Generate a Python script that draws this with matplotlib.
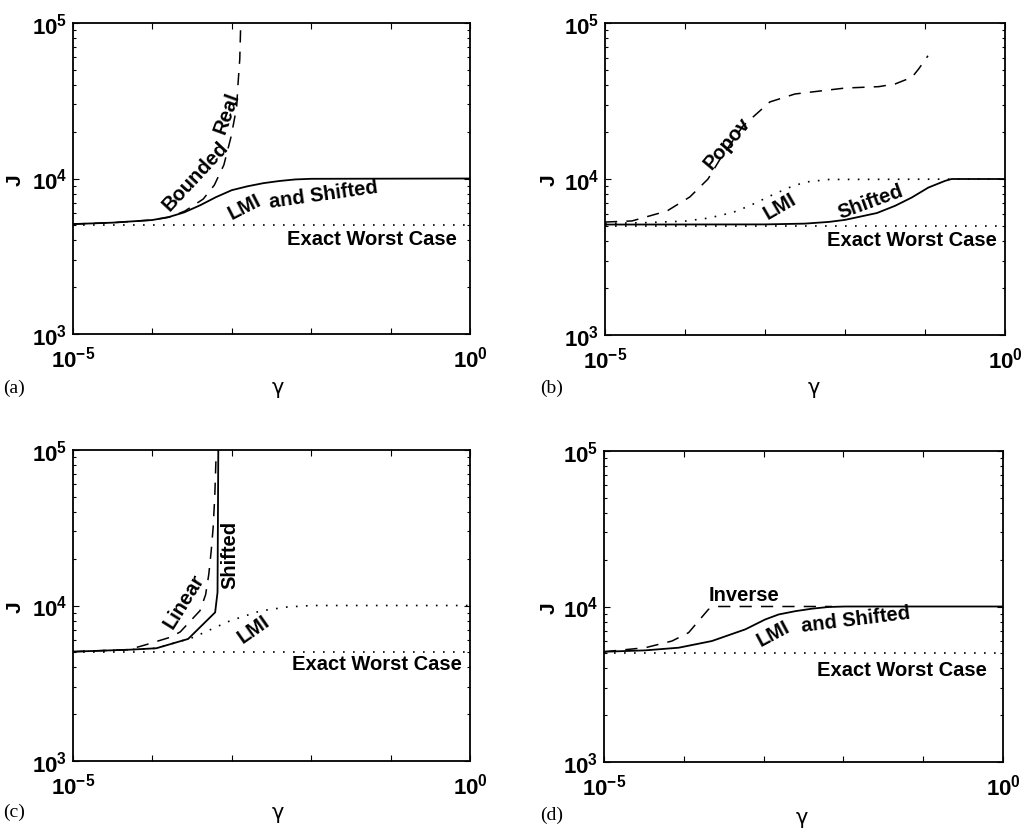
import numpy as np
import matplotlib
matplotlib.use('Agg')
import matplotlib.pyplot as plt
from matplotlib.ticker import FixedLocator, FuncFormatter, LogLocator, NullFormatter

plt.rcParams['font.family'] = ['Liberation Sans', 'DejaVu Sans']
plt.rcParams['mathtext.fontset'] = 'custom'
plt.rcParams['mathtext.rm'] = 'Liberation Sans:bold'
plt.rcParams['mathtext.bf'] = 'Liberation Sans:bold'

W, H = 1024, 829

# exact worst case level (same in every panel)
worst_gamma = [1e-5, 1.0]
worst_J = [5000, 5000]

# (a) LMI and Shifted (solid), Bounded Real (dashed)
a_shift_gamma = [1e-5, 3.16e-5, 1e-4, 1.6e-4, 2.51e-4, 4e-4, 6.31e-4, 1e-3, 1.58e-3, 2.5e-3, 3.98e-3, 6.3e-3, 1e-2, 1.0]
a_shift_J = [5093, 5200, 5408, 5649, 6053, 6730, 7586, 8414, 8913, 9333, 9638, 9863, 9954, 10000]
a_br_gamma = [1e-5, 3.16e-5, 1e-4, 1.66e-4, 2.57e-4, 4.37e-4, 6.03e-4, 7.94e-4, 9.77e-4, 1.15e-3, 1.2e-3, 1.26e-3, 1.29e-3]
a_br_J = [5093, 5200, 5408, 5649, 6180, 7379, 9078, 12218, 18493, 28642, 41115, 58614, 91411]

# (b) Shifted (solid), LMI (dotted), Popov (dashed)
b_shift_gamma = [1e-5, 1e-3, 3.16e-3, 6.31e-3, 1e-2, 2.51e-2, 4.22e-2, 6.81e-2, 0.110, 0.178, 0.215, 1.0]
b_shift_J = [5105, 5117, 5176, 5309, 5470, 6053, 6730, 7603, 8810, 9727, 10000, 10000]
b_lmi_gamma = [1e-5, 3.16e-5, 1e-4, 2e-4, 3.98e-4, 6.46e-4, 1.26e-3, 2e-3, 3.16e-3, 6.31e-3, 1.0]
b_lmi_J = [5188, 5248, 5370, 5623, 6109, 6745, 7943, 8810, 9550, 9931, 10000]
b_popov_gamma = [1e-5, 2.17e-5, 5.96e-5, 1.15e-4, 1.94e-4, 2.75e-4, 5.31e-4, 1.15e-3, 2.37e-3, 4.86e-3, 1e-2, 2.64e-2, 4.22e-2, 6.87e-2, 8.32e-2, 0.109]
b_popov_J = [5297, 5383, 6237, 7674, 10000, 13428, 21878, 31189, 35075, 36644, 38282, 39084, 40644, 44875, 50699, 61660]

# (c) Shifted (solid), Linear (dashed), LMI (dotted)
c_shift_gamma = [1e-5, 5.25e-5, 1.12e-4, 2.82e-4, 6.17e-4, 6.61e-4, 6.76e-4]
c_shift_J = [5047, 5200, 5309, 6095, 9036, 12162, 100000]
c_lin_gamma = [1e-5, 5.01e-5, 8.07e-5, 1.66e-4, 2.24e-4, 3.98e-4, 4.68e-4, 5.13e-4, 5.5e-4, 5.82e-4, 6.1e-4, 6.31e-4]
c_lin_J = [5047, 5200, 5572, 6237, 6761, 9268, 11749, 15849, 22387, 31623, 50119, 85114]
c_lmi_gamma = [1e-5, 5.25e-5, 1.12e-4, 2.82e-4, 3.27e-4, 9.55e-4, 2.29e-3, 4.9e-3, 1e-2, 1.0]
c_lmi_J = [5047, 5200, 5309, 6095, 6237, 7980, 9226, 9772, 10000, 10000]

# (d) LMI and Shifted (solid), Inverse (dashed)
d_shift_gamma = [1e-5, 3.3e-5, 8.63e-5, 2.25e-4, 5.9e-4, 1.05e-3, 1.55e-3, 2.5e-3, 4.05e-3, 6.53e-3, 1.06e-2, 1.0]
d_shift_J = [5117, 5224, 5433, 5998, 7129, 8260, 8892, 9333, 9683, 9931, 10000, 10000]
d_inv_gamma = [1e-5, 3.3e-5, 7.11e-5, 1.15e-4, 1.53e-4, 2.04e-4, 2.74e-4, 7.2e-3]
d_inv_J = [5117, 5433, 5998, 6792, 8072, 9594, 10000, 10000]

SOLID = dict(color='black', lw=1.3, ls='-')
DASH = dict(color='black', lw=1.1, ls=(0, (8, 6)))
DOT = dict(color='black', lw=1.2, ls=(0, (1, 5)))

fig = plt.figure(figsize=(W / 100, H / 100), dpi=100)


def make_axes(l, t, r, b):
    ax = fig.add_axes([l / W, 1 - b / H, (r - l) / W, (b - t) / H])
    ax.set_xscale('log')
    ax.set_yscale('log')
    ax.set_xlim(1e-5, 1)
    ax.set_ylim(1e3, 1e5)
    ax.xaxis.set_major_locator(FixedLocator([1e-5, 1e-4, 1e-3, 1e-2, 1e-1, 1]))
    ax.xaxis.set_major_formatter(FuncFormatter(
        lambda v, p: {1e-5: r'$10^{-5}$', 1.0: r'$10^{0}$'}.get(round(v, 6), '')))
    ax.xaxis.set_minor_locator(FixedLocator([]))
    ax.yaxis.set_major_locator(FixedLocator([1e3, 1e4, 1e5]))
    ax.yaxis.set_major_formatter(FuncFormatter(lambda v, p: r'$10^{%d}$' % round(np.log10(v))))
    ax.yaxis.set_minor_locator(LogLocator(base=10, subs=range(2, 10)))
    ax.yaxis.set_minor_formatter(NullFormatter())
    ax.tick_params(which='both', direction='in', top=True, right=True, labelsize=16)
    ax.tick_params(which='major', length=4, width=0.8)
    ax.tick_params(which='minor', length=2.5, width=0.8)
    ax.tick_params(axis='x', pad=8)
    ax.tick_params(axis='y', pad=4)
    for s in ax.spines.values():
        s.set_linewidth(1.3)
    return ax


def lab(ax, g, j, s, rot=0):
    ax.text(g, j, s, rotation=rot, ha='center', va='center', rotation_mode='anchor',
            fontsize=14.5, fontweight='bold')


def decor(l, b, tag, jx, jy, gx, gy):
    fig.text(jx / W, 1 - jy / H, 'J', rotation=90, ha='center', va='center', fontsize=15, fontweight='bold')
    fig.text(gx / W, 1 - gy / H, '\u03b3', ha='center', va='center', fontsize=15, family='DejaVu Sans')
    fig.text(l / W, 1 - b / H, tag, ha='left', va='center', fontsize=14, family='Liberation Serif')


# (a)
ax = make_axes(73, 24, 470, 335)
ax.plot(worst_gamma, worst_J, **DOT)
ax.plot(a_br_gamma, a_br_J, **DASH)
ax.plot(a_shift_gamma, a_shift_J, **SOLID)
lab(ax, 10 ** -3.455, 10 ** 4.018, 'Bounded', 47)
lab(ax, 10 ** -3.06, 10 ** 4.43, 'Real', 70)
lab(ax, 10 ** -2.84, 10 ** 3.82, 'LMI', 27)
lab(ax, 10 ** -1.84, 10 ** 3.900, 'and Shifted', 8)
lab(ax, 10 ** -1.237, 10 ** 3.611, 'Exact Worst Case')
decor(3, 388, '(a)', 15, 180, 278, 388)

# (b)
ax = make_axes(605, 24, 1005, 336)
ax.plot(worst_gamma, worst_J, **DOT)
ax.plot(b_lmi_gamma, b_lmi_J, **DOT)
ax.plot(b_popov_gamma, b_popov_J, **DASH)
ax.plot(b_shift_gamma, b_shift_J, **SOLID)
lab(ax, 10 ** -3.479, 10 ** 4.235, 'Popov', 50)
lab(ax, 10 ** -2.81, 10 ** 3.829, 'LMI', 30)
lab(ax, 10 ** -1.684, 10 ** 3.861, 'Shifted', 20)
lab(ax, 10 ** -1.163, 10 ** 3.615, 'Exact Worst Case')
decor(540, 388, '(b)', 549, 180, 814, 388)

# (c)
ax = make_axes(73, 451, 470, 762)
ax.plot(worst_gamma, worst_J, **DOT)
ax.plot(c_lmi_gamma, c_lmi_J, **DOT)
ax.plot(c_lin_gamma, c_lin_J, **DASH)
ax.plot(c_shift_gamma, c_shift_J, **SOLID)
lab(ax, 10 ** -3.598, 10 ** 4.035, 'Linear', 58)
lab(ax, 10 ** -3.023, 10 ** 4.331, 'Shifted', 90)
lab(ax, 10 ** -2.729, 10 ** 3.849, 'LMI', 35)
lab(ax, 10 ** -1.175, 10 ** 3.624, 'Exact Worst Case')
decor(3, 812, '(c)', 15, 607, 278, 813)

# (d)
ax = make_axes(604, 452, 1003, 763)
ax.plot(worst_gamma, worst_J, **DOT)
ax.plot(d_inv_gamma, d_inv_J, **DASH)
ax.plot(d_shift_gamma, d_shift_J, **SOLID)
lab(ax, 10 ** -3.242, 10 ** 4.074, 'Inverse')
lab(ax, 10 ** -2.88, 10 ** 3.83, 'LMI', 28)
lab(ax, 10 ** -1.84, 10 ** 3.920, 'and Shifted', 7)
lab(ax, 10 ** -1.266, 10 ** 3.598, 'Exact Worst Case')
decor(540, 815, '(d)', 549, 608, 802, 818)

fig.savefig('out.png', dpi=100)
